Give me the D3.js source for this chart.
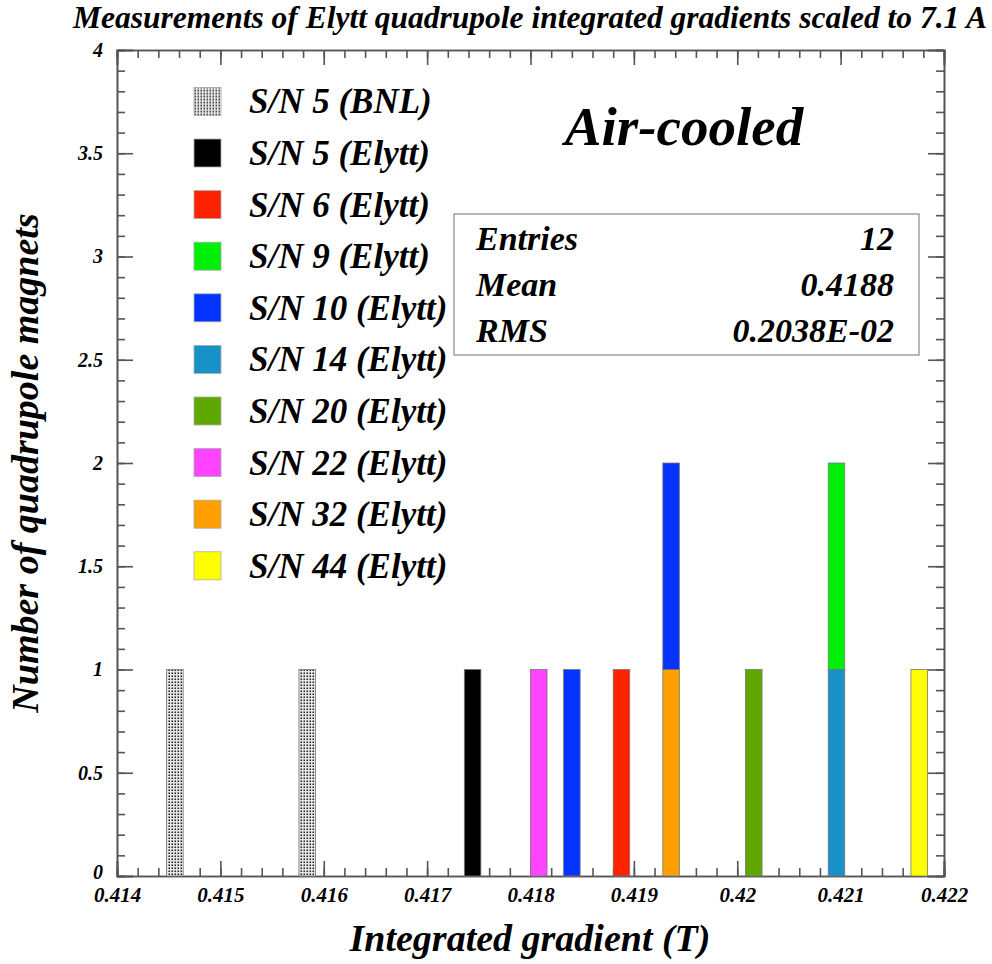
<!DOCTYPE html>
<html>
<head>
<meta charset="utf-8">
<script src="https://cdn.jsdelivr.net/npm/d3@7"></script>
<style>
  body { margin: 0; background: #fff; }
  text { font-family: "Liberation Serif", "Times New Roman", serif; font-weight: bold; font-style: italic; fill: #000; }
  .axis path, .axis line { stroke: #555; stroke-width: 1.6; }
</style>
</head>
<body>
<div id="chart"></div>
<script>
// series, in legend order
var seriesNames = ["S/N 5 (BNL)", "S/N 5 (Elytt)", "S/N 6 (Elytt)", "S/N 9 (Elytt)", "S/N 10 (Elytt)",
  "S/N 14 (Elytt)", "S/N 20 (Elytt)", "S/N 22 (Elytt)", "S/N 32 (Elytt)", "S/N 44 (Elytt)"];
var seriesColors = ["url(#dots)", "#000000", "#ff2200", "#00f00a", "#0433ff",
  "#1791c8", "#5fa800", "#ff44ff", "#ffa000", "#ffff00"];
// measured integrated gradients (T), one entry per magnet measurement
var seriesValues = [
  [0.41456, 0.41584],
  [0.41744],
  [0.41888],
  [0.42096],
  [0.41840, 0.41936],
  [0.42096],
  [0.42016],
  [0.41808],
  [0.41936],
  [0.42176]
];
var statLabels = ["Entries", "Mean", "RMS"];
var statValues = ["12", "0.4188", "0.2038E-02"];
var xDomain = [0.414, 0.422];
var yDomain = [0, 4];
var binHalfWidth = 0.00008;

var width = 992, height = 964;
var margin = { left: 117, right: 48, top: 50, bottom: 88 };

var x = d3.scaleLinear().domain(xDomain).range([margin.left, width - margin.right]);
var y = d3.scaleLinear().domain(yDomain).range([height - margin.bottom, margin.top]);

var svg = d3.select("#chart").append("svg")
  .attr("width", width)
  .attr("height", height);

var pat = svg.append("defs").append("pattern")
  .attr("id", "dots")
  .attr("patternUnits", "userSpaceOnUse")
  .attr("width", 3)
  .attr("height", 3);
pat.append("rect").attr("width", 3).attr("height", 3).attr("fill", "#e6e6e6");
pat.append("rect").attr("x", 0.5).attr("y", 0.5).attr("width", 1.5).attr("height", 1.5).attr("fill", "#222");

// stack entries falling in the same bin; last legend entry goes at the bottom
var bars = [];
var stackBase = {};
for (var s = seriesNames.length - 1; s >= 0; s--) {
  seriesValues[s].forEach(function (v) {
    var key = v.toFixed(5);
    var base = stackBase[key] || 0;
    bars.push({ series: s, value: v, y0: base, y1: base + 1 });
    stackBase[key] = base + 1;
  });
}

var fmt = function (d) { return String(+d.toFixed(6)); };

// minor ticks
svg.append("g").attr("class", "axis").attr("transform", "translate(0," + y(0) + ")")
  .call(d3.axisBottom(x).ticks(40).tickSize(-8).tickFormat(""));
svg.append("g").attr("class", "axis").attr("transform", "translate(0," + y(4) + ")")
  .call(d3.axisTop(x).ticks(40).tickSize(-8).tickFormat(""));
svg.append("g").attr("class", "axis").attr("transform", "translate(" + x(xDomain[0]) + ",0)")
  .call(d3.axisLeft(y).ticks(40).tickSize(-8).tickFormat(""));
svg.append("g").attr("class", "axis").attr("transform", "translate(" + x(xDomain[1]) + ",0)")
  .call(d3.axisRight(y).ticks(40).tickSize(-8).tickFormat(""));

// major ticks + labels
var xAxis = svg.append("g").attr("class", "axis").attr("transform", "translate(0," + y(0) + ")")
  .call(d3.axisBottom(x).ticks(8).tickSize(-15).tickPadding(11).tickFormat(fmt));
xAxis.selectAll("text").attr("font-size", 21).attr("fill", "#000");
svg.append("g").attr("class", "axis").attr("transform", "translate(0," + y(4) + ")")
  .call(d3.axisTop(x).ticks(8).tickSize(-15).tickFormat(""));
var yAxis = svg.append("g").attr("class", "axis").attr("transform", "translate(" + x(xDomain[0]) + ",0)")
  .call(d3.axisLeft(y).ticks(8).tickSize(-16).tickPadding(14).tickFormat(fmt));
yAxis.selectAll("text").attr("font-size", 20).attr("fill", "#000");
// lift the zero label a little so it clears the x labels
yAxis.selectAll(".tick").filter(function (d) { return d === 0; }).select("text").attr("dy", "0.1em");
svg.append("g").attr("class", "axis").attr("transform", "translate(" + x(xDomain[1]) + ",0)")
  .call(d3.axisRight(y).ticks(8).tickSize(-16).tickFormat(""));
svg.selectAll(".axis path").attr("fill", "none");

// bars
svg.append("g").selectAll("rect")
  .data(bars)
  .enter()
  .append("rect")
  .attr("x", function (d) { return x(d.value - binHalfWidth); })
  .attr("width", function (d) { return x(d.value + binHalfWidth) - x(d.value - binHalfWidth); })
  .attr("y", function (d) { return y(d.y1); })
  .attr("height", function (d) { return y(d.y0) - y(d.y1); })
  .attr("fill", function (d) { return seriesColors[d.series]; })
  .attr("stroke", "#777")
  .attr("stroke-width", 0.8);

// legend
var legend = svg.append("g").selectAll("g")
  .data(seriesNames)
  .enter()
  .append("g")
  .attr("transform", function (d, i) { return "translate(194," + (101.4 + i * 51.6) + ")"; });
legend.append("rect")
  .attr("x", 0).attr("y", -14).attr("width", 27).attr("height", 28)
  .attr("fill", function (d, i) { return seriesColors[i]; })
  .attr("stroke", "#aaa")
  .attr("stroke-width", 0.8);
legend.append("text")
  .attr("x", 55).attr("y", 12)
  .attr("font-size", 35)
  .text(function (d) { return d; });

// stats box
svg.append("rect")
  .attr("x", 454).attr("y", 214).attr("width", 465).attr("height", 141)
  .attr("fill", "#fff").attr("stroke", "#888").attr("stroke-width", 1.2);
var stats = svg.append("g").selectAll("g")
  .data(statLabels)
  .enter()
  .append("g")
  .attr("transform", function (d, i) { return "translate(0," + (250 + i * 45.8) + ")"; });
stats.append("text").attr("x", 476).attr("font-size", 34).text(function (d) { return d; });
stats.append("text").attr("x", 894).attr("font-size", 34).attr("text-anchor", "end")
  .text(function (d, i) { return statValues[i]; });

svg.append("text")
  .attr("x", 684).attr("y", 145)
  .attr("text-anchor", "middle")
  .attr("font-size", 55)
  .text("Air-cooled");

// titles
svg.append("text")
  .attr("x", 530).attr("y", 28)
  .attr("text-anchor", "middle")
  .attr("font-size", 31.5)
  .text("Measurements of Elytt quadrupole integrated gradients scaled to 7.1 A");
svg.append("text")
  .attr("x", 530).attr("y", 951)
  .attr("text-anchor", "middle")
  .attr("font-size", 38)
  .text("Integrated gradient (T)");
svg.append("text")
  .attr("transform", "translate(38,463) rotate(-90)")
  .attr("text-anchor", "middle")
  .attr("font-size", 38)
  .text("Number of quadrupole magnets");
</script>
</body>
</html>
